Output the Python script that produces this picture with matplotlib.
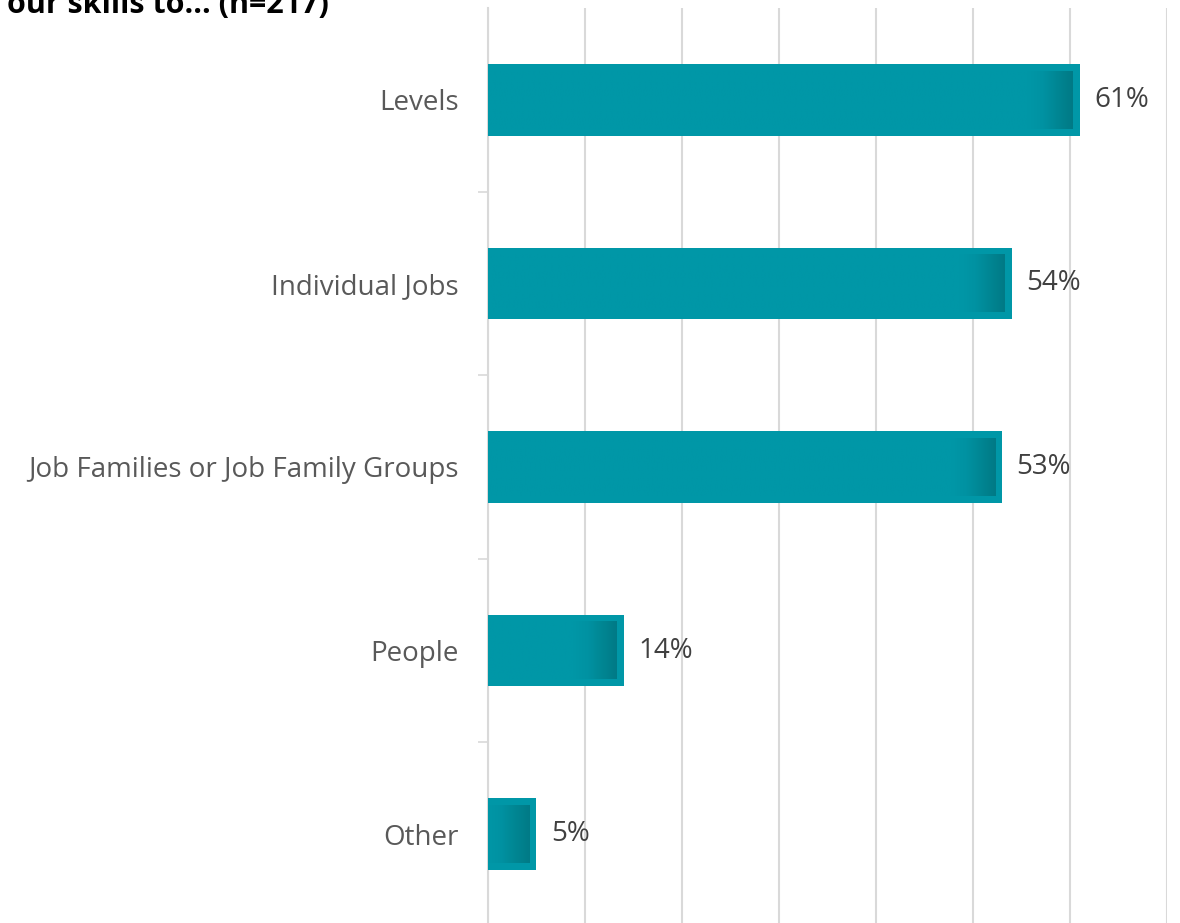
import numpy as np
import matplotlib.pyplot as plt
from matplotlib.colors import LinearSegmentedColormap

plt.rcParams['font.family'] = ['Open Sans', 'DejaVu Sans']

categories = ['Levels', 'Individual Jobs', 'Job Families or Job Family Groups', 'People', 'Other']
values = [61, 54, 53, 14, 5]
value_labels = ['61%', '54%', '53%', '14%', '5%']
title = 'our skills to... (n=217)'

BAR_COLOR = '#0097A7'
DARK_COLOR = '#007A86'
GRID_COLOR = '#D9D9D9'

fig = plt.figure(figsize=(11.8, 9.23), dpi=100)
ax = fig.add_axes([488 / 1180, 1 - 926 / 923, (1167 - 488) / 1180, 918 / 923])

y = np.arange(len(categories))
bar_h = 0.39
ax.barh(y, values, height=bar_h, color=BAR_COLOR, zorder=3)

# inner panel with a darker fade towards the right end
cmap = LinearSegmentedColormap.from_list('fade', [BAR_COLOR, '#0092A2', '#008693', DARK_COLOR])
inset_x = 0.72
inset_y = 0.038
fade = 4.5
for yi, v in zip(y, values):
    x1 = v - inset_x
    xs = np.linspace(0, x1, 300)
    ramp = np.clip((xs - (x1 - fade)) / fade, 0, 1)
    img = np.tile(ramp, (10, 1))
    ax.imshow(img, cmap=cmap, vmin=0, vmax=1, aspect='auto', interpolation='bilinear',
              extent=[0, x1, yi + bar_h / 2 - inset_y, yi - bar_h / 2 + inset_y], zorder=4)

for yi, v, lab in zip(y, values, value_labels):
    ax.text(v + 1.5, yi, lab, va='center', ha='left', fontsize=20, color='#404040')

ax.set_xlim(0, 70)
ax.set_ylim(len(categories) - 0.5, -0.5)
ax.set_xticks(np.arange(0, 71, 10))
ax.tick_params(axis='x', length=0, labelbottom=False)
ax.grid(axis='x', color=GRID_COLOR, linewidth=1.5, zorder=0)
ax.set_axisbelow(True)

ax.set_yticks(y)
ax.set_yticklabels(categories, fontsize=20, color='#595959')
ax.set_yticks(np.arange(0.5, len(categories) - 0.5, 1), minor=True)
ax.tick_params(axis='y', which='major', length=0, pad=21)
ax.tick_params(axis='y', which='minor', length=7, width=1.2, color=GRID_COLOR)

for s in ['top', 'right', 'bottom']:
    ax.spines[s].set_visible(False)
ax.spines['left'].set_color(GRID_COLOR)
ax.spines['left'].set_linewidth(1.5)

fig.text(0.006, 1 - 13 / 923, title, fontsize=22, fontweight='bold', color='black', va='baseline')

fig.savefig('out.png', dpi=100)
